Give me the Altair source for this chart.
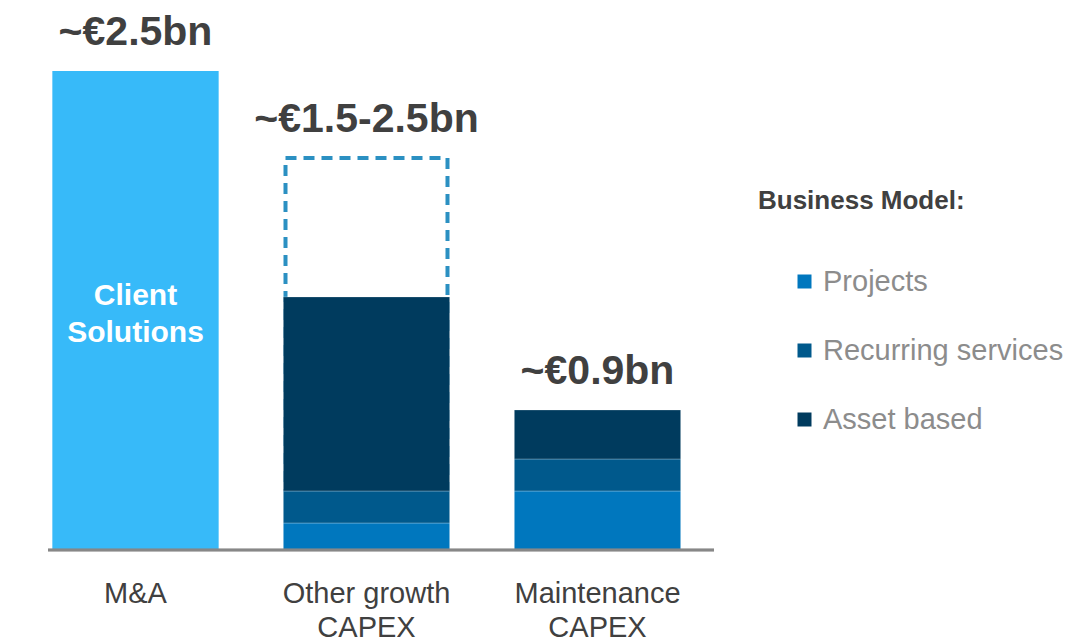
import altair as alt
import pandas as pd

# Spending categories along the x axis ("\n" marks the line break in the label)
categories = ["M&A", "Other growth\nCAPEX", "Maintenance\nCAPEX"]

# Business-model split of the two CAPEX bars (EUR bn, bottom to top)
segments = ["Projects", "Recurring services", "Asset based"]
segment_colors = ["#0077BE", "#00598C", "#003B5E"]
other_growth_values = [0.141, 0.167, 1.013]
maintenance_values = [0.308, 0.167, 0.256]

# M&A envelope and the upper end of the other-growth range (EUR bn)
mna_value = 2.5
other_growth_high = 2.046

# Headline labels above each bar
headline_labels = ["~€2.5bn", "~€1.5-2.5bn", "~€0.9bn"]
mna_inner_label = "Client\nSolutions"

FONT = "Liberation Sans"
DARK = "#404040"

stack_df = pd.DataFrame(
    [
        {"category": categories[1], "segment": s, "value": v, "idx": i}
        for i, (s, v) in enumerate(zip(segments, other_growth_values))
    ]
    + [
        {"category": categories[2], "segment": s, "value": v, "idx": i}
        for i, (s, v) in enumerate(zip(segments, maintenance_values))
    ]
)
mna_df = pd.DataFrame({"category": [categories[0]], "value": [mna_value], "label": [mna_inner_label]})
# The outline starts inside the asset-based block so only its sides and top show
range_df = pd.DataFrame(
    {
        "category": [categories[1]],
        "low": [other_growth_values[0] + other_growth_values[1]],
        "high": [other_growth_high],
    }
)
label_df = pd.DataFrame(
    {
        "category": categories,
        "top": [mna_value, other_growth_high, sum(maintenance_values)],
        "label": headline_labels,
        "zero": [0.0, 0.0, 0.0],
    }
)

x_enc = alt.X(
    "category:N",
    scale=alt.Scale(domain=categories, paddingInner=0.28, paddingOuter=0.14),
    axis=alt.Axis(
        title=None,
        labelAngle=0,
        domain=False,
        ticks=False,
        tickSize=0,
        labelPadding=29,
        labelFont=FONT,
        labelFontSize=29,
        labelColor=DARK,
        labelLineHeight=34,
        labelExpr="split(datum.value, '\\n')",
        labelLimit=400,
    ),
)
y_scale = alt.Scale(domain=[0, 2.5], nice=False, zero=True)

# Dashed outline for the upper end of the other-growth range
dashed = alt.Chart(range_df).mark_bar(
    fill="white",
    fillOpacity=0,
    stroke="#2B90C2",
    strokeWidth=4,
    strokeDash=[11, 7],
    strokeJoin="round",
    width=alt.RelativeBandSize(0.974),
).encode(
    x=x_enc,
    y=alt.Y("low:Q", scale=y_scale, axis=None),
    y2="high:Q",
)

mna_bar = alt.Chart(mna_df).mark_bar(color="#37BAF9").encode(
    x=x_enc,
    y=alt.Y("value:Q", scale=y_scale, axis=None),
)

stacked = alt.Chart(stack_df).mark_bar(stroke="white", strokeWidth=1, strokeOpacity=0.25).encode(
    x=x_enc,
    y=alt.Y("value:Q", stack="zero", scale=y_scale, axis=None),
    color=alt.Color(
        "segment:N",
        scale=alt.Scale(domain=segments, range=segment_colors),
        legend=alt.Legend(
            title="Business Model:",
            orient="none",
            legendX=738,
            legendY=117,
            padding=0,
            symbolType="square",
            symbolSize=196,
            symbolStrokeWidth=0,
            symbolOffset=32,
            labelOffset=4,
            labelFont=FONT,
            labelFontSize=29,
            labelColor="#8C8C8C",
            labelLimit=400,
            titleFont=FONT,
            titleFontSize=26,
            titleFontWeight="bold",
            titleColor=DARK,
            titlePadding=53,
            titleLimit=400,
            rowPadding=39,
        ),
    ),
    order=alt.Order("idx:Q", sort="ascending"),
)

baseline = alt.Chart(label_df).mark_rule(color="#878787", strokeWidth=2.5).encode(
    x=alt.value(28),
    x2=alt.value(694),
    y=alt.Y("zero:Q", scale=y_scale, axis=None),
)

headlines = alt.Chart(label_df).mark_text(
    font=FONT,
    fontSize=41,
    fontWeight="bold",
    color=DARK,
    baseline="alphabetic",
    dy=-26,
).encode(
    x=x_enc,
    y=alt.Y("top:Q", scale=y_scale, axis=None),
    text="label:N",
)

inner = alt.Chart(mna_df).mark_text(
    font=FONT,
    fontSize=30,
    fontWeight="bold",
    color="white",
    baseline="alphabetic",
    lineBreak="\n",
    lineHeight=37,
    dy=234,
).encode(
    x=x_enc,
    y=alt.Y("value:Q", scale=y_scale, axis=None),
    text="label:N",
)

chart = (
    alt.layer(dashed, mna_bar, stacked, baseline, headlines, inner)
    .properties(
        width=693,
        height=479,
        padding={"left": 20, "top": 71, "right": 376, "bottom": 91},
        autosize=alt.AutoSizeParams(type="none"),
    )
    .configure(font=FONT, background="white")
    .configure_view(stroke="transparent", strokeWidth=0)
)

chart.save("out.html", embed_options={"renderer": "svg", "actions": False})
